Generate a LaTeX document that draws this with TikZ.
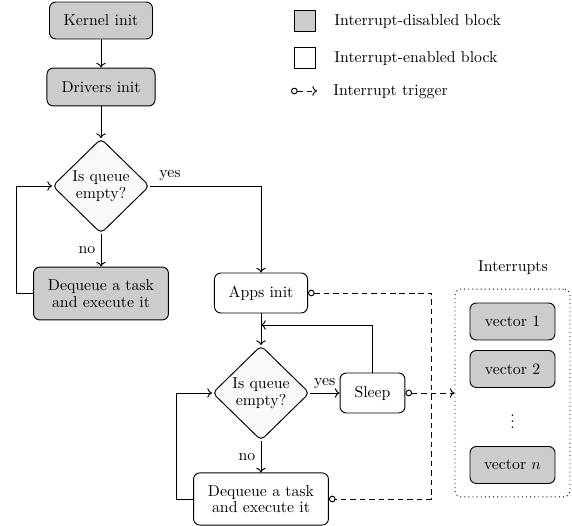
\documentclass[tikz,border=0pt]{standalone}
\usetikzlibrary{shapes.geometric,arrows.meta}
\begin{document}
\begin{tikzpicture}[
  x=0.6329pt, y=-0.6329pt,
  line width=0.6pt,
  every node/.style={font=\fontsize{10}{10.5}\selectfont},
  block/.style={rectangle, draw, rounded corners=4pt, align=center, inner sep=2pt},
  offblock/.style={block, fill=gray!40},
  onblock/.style={block, fill=white},
  decision/.style={diamond, draw, fill=gray!5, rounded corners=3pt, align=center,
                   inner sep=1pt, minimum width=61.4pt, minimum height=60pt},
  arr/.style={-{To[length=3pt,width=6pt]}},
  irq/.style={dash pattern=on 3.5pt off 2.5pt},
  trig/.style={irq, {Circle[open,length=4.2pt,fill=white]}-{To[length=3pt,width=6pt]}},
  trig2/.style={irq, {Circle[open,length=4.2pt,fill=white]}-{Circle[open,length=4.2pt,fill=white]}},
  legsq/.style={rectangle, draw, minimum size=13.3pt, inner sep=0pt},
  legtxt/.style={anchor=west, inner sep=0pt},
]
\useasboundingbox (0,0) rectangle (572,526);

% ---- kernel start-up column ----
\node[offblock, minimum width=65.2pt, minimum height=23.4pt] (kernel) at (101,20.5) {Kernel init};
\node[offblock, minimum width=68.4pt, minimum height=24pt] (drivers) at (101,87) {Drivers init};
\node[decision] (dec1) at (101,186) {Is queue\\empty?};
\node[offblock, minimum width=85.4pt, minimum height=33.5pt] (deq1) at (101,293.5) {Dequeue a task\\and execute it};

% ---- application column ----
\node[onblock, minimum width=58.9pt, minimum height=25.3pt] (apps) at (261,293) {Apps init};
\node[decision] (dec2) at (261,393) {Is queue\\empty?};
\node[onblock, minimum width=41.1pt, minimum height=25.3pt] (sleep) at (372.5,393) {Sleep};
\node[onblock, minimum width=85.4pt, minimum height=33pt] (deq2) at (261,499) {Dequeue a task\\and execute it};

% ---- interrupt vectors ----
\node (inttitle) at (513,268) {Interrupts};
\node[rectangle, draw, dotted, rounded corners=4pt, minimum width=72.8pt, minimum height=131.6pt] (intbox) at (512.5,393) {};
\node[offblock, minimum width=53.8pt, minimum height=23.4pt] (vec1) at (512.5,321.5) {vector 1};
\node[offblock, minimum width=53.8pt, minimum height=23.4pt] (vec2) at (512.5,369) {vector 2};
\node (vdots) at (512.5,417) {$\vdots$};
\node[offblock, minimum width=53.8pt, minimum height=23.4pt] (vecn) at (512.5,465) {vector $n$};

% ---- legend ----
\node[legsq, fill=gray!40] (legoff) at (304.5,21) {};
\node[legsq, fill=white] (legon) at (304.5,58) {};
\node[legtxt] (legofftxt) at (334,22) {Interrupt-disabled block};
\node[legtxt] (legontxt) at (334,59) {Interrupt-enabled block};
\coordinate (legA) at (291,91);
\coordinate (legB) at (317,91);
\draw[trig] (legA) -- (legB);
\node[legtxt] (legtrig) at (333,92) {Interrupt trigger};

% ---- flow connectors ----
\draw[arr] (kernel) -- (drivers);
\draw[arr] (drivers) -- (dec1);
\draw[arr] (dec1) -- node[left] {no} (deq1);
\draw[arr] (deq1.west) -- ++(-17,0) |- (dec1.west);
\draw[arr] (dec1.east) -| node[pos=0.09, above] {yes} (apps.north);
\draw[arr] (apps) -- (dec2);
\draw[arr] (dec2) -- node[above, yshift=-1pt] {yes} (sleep);
\coordinate (wake) at (261,325);
\draw[arr] (sleep.north) |- (wake);
\draw[arr] (dec2) -- node[left] {no} (deq2);
\draw[arr] (deq2.west) -- ++(-17,0) |- (dec2.west);

% ---- interrupt triggers ----
\draw[trig2] (apps.east) -- (431,293) -- (431,499) -- (deq2.east);
\draw[trig] (sleep.east) -- (intbox.west |- sleep.east);
\end{tikzpicture}
\end{document}
